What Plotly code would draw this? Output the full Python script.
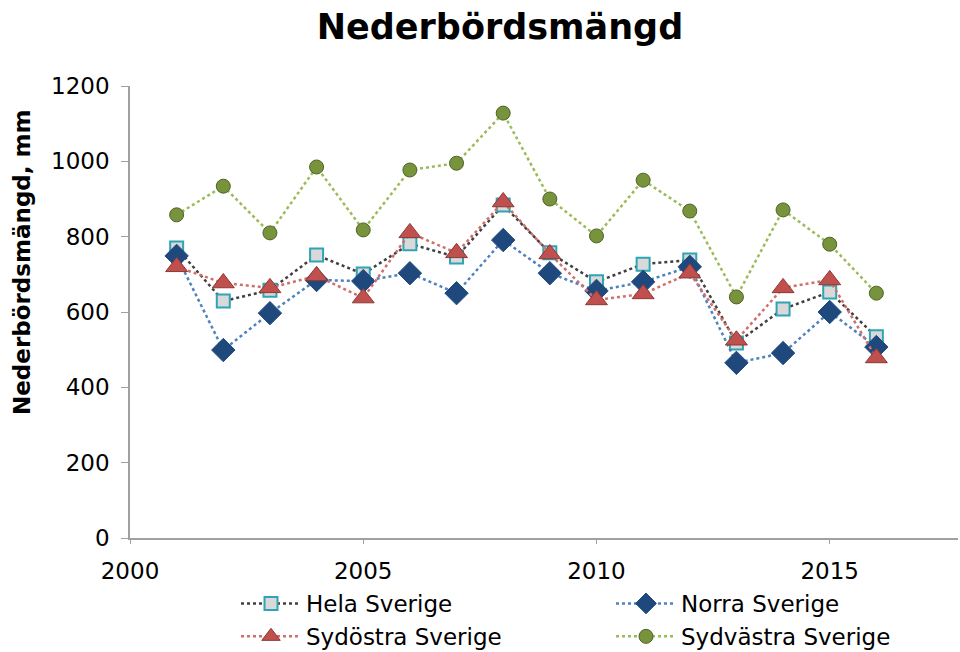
import plotly.graph_objects as go

years = list(range(2001, 2017))

hela_sverige = [770, 629, 658, 751, 701, 781, 746, 884, 757, 680, 727, 738, 518, 608, 653, 534]
norra_sverige = [749, 499, 597, 685, 682, 703, 650, 791, 703, 656, 680, 720, 465, 491, 600, 507]
sydostra_sverige = [720, 677, 664, 696, 637, 810, 757, 892, 754, 632, 648, 703, 525, 664, 685, 478]
sydvastra_sverige = [858, 934, 810, 985, 818, 977, 995, 1128, 900, 802, 950, 868, 640, 871, 780, 650]

x_ticks = [2000, 2005, 2010, 2015]
y_ticks = [0, 200, 400, 600, 800, 1000, 1200]

FONT = "DejaVu Sans, Arial, sans-serif"

series = [
    ("Hela Sverige", hela_sverige, "#404040", "square", 13, "#d9d9d9", "#2fa4b4", 2),
    ("Norra Sverige", norra_sverige, "#4f81bd", "diamond", 18, "#1f497d", "#1f497d", 1),
    ("Sydöstra Sverige", sydostra_sverige, "#d0706c", "triangle-up", 19, "#c0504d", "#8c3836", 1),
    ("Sydvästra Sverige", sydvastra_sverige, "#9bbb59", "circle", 14, "#77933c", "#4f6228", 1),
]

fig = go.Figure()
for name, vals, line_col, sym, size, fill, edge, ew in series:
    fig.add_trace(go.Scatter(
        x=years, y=vals, name=name, mode="lines+markers",
        line=dict(color=line_col, width=2.5, dash="dot"),
        marker=dict(symbol=sym, size=size, color=fill, line=dict(color=edge, width=ew)),
    ))

fig.update_layout(
    width=960, height=652,
    margin=dict(l=130, r=2, t=86, b=114, autoexpand=False),
    paper_bgcolor="white", plot_bgcolor="white",
    font=dict(family=FONT, size=23, color="black"),
    title=dict(text="<b>Nederbördsmängd</b>", x=500 / 960, xanchor="center",
               y=1 - 27 / 652, yanchor="middle",
               font=dict(family=FONT, size=35, color="black")),
    showlegend=True,
    legend=dict(orientation="h", x=(236 - 130) / 828, xanchor="left",
                y=-(582 - 538) / 452, yanchor="top",
                entrywidth=300, entrywidthmode="pixels", traceorder="normal",
                font=dict(family=FONT, size=23, color="black"),
                itemwidth=60, tracegroupgap=0, bgcolor="rgba(0,0,0,0)"),
    xaxis=dict(range=[2000, 2017.75], tickvals=x_ticks, ticktext=[str(v) for v in x_ticks],
               showgrid=False, zeroline=False, showline=True, linecolor="#a0a0a0", linewidth=2,
               ticks="outside", ticklen=4, tickcolor="#a0a0a0", ticklabelstandoff=7,
               tickfont=dict(size=23)),
    yaxis=dict(range=[0, 1200], tickvals=y_ticks, ticktext=[str(v) for v in y_ticks],
               showgrid=False, zeroline=False, showline=True, linecolor="#a0a0a0", linewidth=1.5,
               ticks="outside", ticklen=7, tickcolor="#a0a0a0", ticklabelstandoff=7,
               tickfont=dict(size=23)),
    annotations=[dict(text="<b>Nederbördsmängd, mm</b>", textangle=-90,
                      xref="paper", yref="paper", x=-(130 - 22) / 828, y=(538 - 263) / 452,
                      xanchor="center", yanchor="middle", showarrow=False,
                      font=dict(family=FONT, size=23, color="black"))],
)

fig.write_html("out.html")
